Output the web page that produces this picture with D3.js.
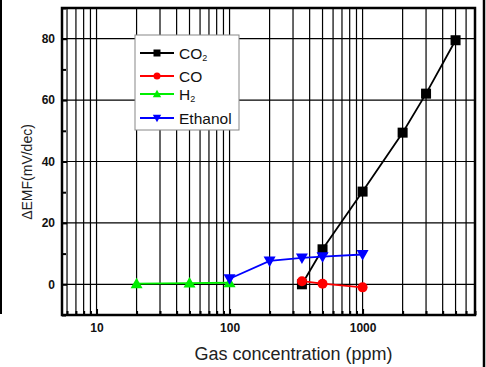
<!DOCTYPE html>
<html><head><meta charset="utf-8">
<script src="https://cdn.jsdelivr.net/npm/d3@7"></script>
<style>body{margin:0;background:#fff}svg{display:block}</style>
</head><body>
<svg id="c" width="486" height="367"></svg>
<script>
const co2X = [350, 500, 1000, 2000, 3000, 5000];
const co2Y = [0, 11.4, 30.2, 49.4, 62.1, 79.5];
const coX = [350, 500, 1000];
const coY = [1.0, 0.2, -1.0];
const h2X = [20, 50, 100];
const h2Y = [0.2, 0.4, 0.5];
const ethX = [100, 200, 350, 500, 1000];
const ethY = [1.8, 7.6, 8.6, 9.0, 9.7];
const xTickLabels = [10, 100, 1000];
const yTickLabels = [0, 20, 40, 60, 80];

const svg = d3.select("#c");
const L = 62, R = 475, T = 8, B = 315;
const x = d3.scaleLog().domain([5.5, 7000]).range([L, R]);
const y = d3.scaleLinear().domain([-10, 90]).range([B, T]);

// outer frame lines
svg.append("line").attr("x1",1).attr("x2",1).attr("y1",0).attr("y2",314).attr("stroke","#000").attr("stroke-width",2);
svg.append("line").attr("x1",484).attr("x2",484).attr("y1",0).attr("y2",367).attr("stroke","#000").attr("stroke-width",2.5);

// vertical gridlines at all log ticks
const allX = [];
for (let d = 1; d <= 1000; d *= 10) for (let m = 1; m <= 9; m++) { const v = d*m; if (v >= 5.5 && v <= 7000) allX.push(v); }
svg.append("g").selectAll("line").data(allX).join("line")
  .attr("x1", d=>x(d)).attr("x2", d=>x(d)).attr("y1", T).attr("y2", B)
  .attr("stroke","#000").attr("stroke-width",1.2);
// horizontal gridlines
svg.append("g").selectAll("line").data(yTickLabels).join("line")
  .attr("x1", L).attr("x2", R).attr("y1", d=>y(d)).attr("y2", d=>y(d))
  .attr("stroke","#000").attr("stroke-width",1.2);

// axes
const yAxis = d3.axisLeft(y).tickValues(yTickLabels).tickSize(-5).tickPadding(7).tickFormat(d3.format("d"));
const gy = svg.append("g").attr("transform",`translate(${L},0)`).call(yAxis);
gy.select(".domain").remove();
svg.append("g").attr("transform",`translate(${L},0)`).call(d3.axisLeft(y).tickValues([-10,10,30,50,70,90]).tickSize(-4).tickFormat(""))
  .select(".domain").remove();
const xAxis = d3.axisBottom(x).tickValues(xTickLabels).tickSize(-6).tickPadding(8).tickFormat(d3.format("d"));
const gx = svg.append("g").attr("transform",`translate(0,${B})`).call(xAxis);
gx.select(".domain").remove();
svg.append("g").attr("transform",`translate(0,${B})`).call(d3.axisBottom(x).tickValues(allX.filter(v=>![10,100,1000].includes(v))).tickSize(-4).tickFormat(""))
  .select(".domain").remove();
svg.selectAll(".tick line").attr("stroke","#000").attr("stroke-width",2);
svg.selectAll(".tick text").attr("fill","#111").style("font-family","Liberation Sans, Arial").style("font-size","12px").style("font-weight","bold");

// frame
svg.append("rect").attr("x",L).attr("y",T).attr("width",R-L).attr("height",B-T).attr("fill","none").attr("stroke","#000").attr("stroke-width",2.5);

// titles
svg.append("text").attr("x",293.5).attr("y",360).attr("text-anchor","middle")
  .style("font-family","Liberation Sans, Arial").style("font-size","18px").attr("fill","#222").text("Gas concentration (ppm)");
svg.append("text").attr("transform","translate(32,172) rotate(-90)").attr("text-anchor","middle")
  .style("font-family","Liberation Sans, Arial").style("font-size","14px").attr("fill","#222").text("ΔEMF(mV/dec)");

// series
const series = [
  {name:"CO2", xs:co2X, ys:co2Y, color:"#000000", shape:"square"},
  {name:"CO", xs:coX, ys:coY, color:"#ff0000", shape:"circle"},
  {name:"H2", xs:h2X, ys:h2Y, color:"#00ee00", shape:"up"},
  {name:"Ethanol", xs:ethX, ys:ethY, color:"#0000ff", shape:"down"}
];
function marker(g, shape, cx, cy, color, s) {
  if (shape==="square") g.append("rect").attr("x",cx-s/2).attr("y",cy-s/2).attr("width",s).attr("height",s).attr("fill",color);
  else if (shape==="circle") g.append("circle").attr("cx",cx).attr("cy",cy).attr("r",s/2).attr("fill",color);
  else if (shape==="up") g.append("path").attr("d",`M${cx},${cy-s*0.6}L${cx+s*0.6},${cy+s*0.45}L${cx-s*0.6},${cy+s*0.45}Z`).attr("fill",color);
  else g.append("path").attr("d",`M${cx},${cy+s*0.6}L${cx+s*0.6},${cy-s*0.45}L${cx-s*0.6},${cy-s*0.45}Z`).attr("fill",color);
}
const line = d3.line().x(d=>x(d[0])).y(d=>y(d[1]));
series.forEach(s => {
  const pts = s.xs.map((v,i)=>[v, s.ys[i]]);
  svg.append("path").datum(pts).attr("d",line).attr("fill","none").attr("stroke",s.color).attr("stroke-width",1.8);
});
series.forEach(s => {
  const g = svg.append("g");
  s.xs.forEach((v,i)=>marker(g, s.shape, x(v), y(s.ys[i]), s.color, 10));
});

// legend
const lg = svg.append("g");
lg.append("rect").attr("x",135).attr("y",35).attr("width",104).attr("height",95).attr("fill","#fff").attr("stroke","#888").attr("stroke-width",1);
const rows = [53, 76, 94, 118];
series.forEach((s,i) => {
  const yy = rows[i];
  lg.append("line").attr("x1",140).attr("x2",174).attr("y1",yy).attr("y2",yy).attr("stroke",s.color).attr("stroke-width",1.8);
  marker(lg, s.shape, 157, yy, s.color, 7);
  const t = lg.append("text").attr("x",179).attr("y",yy+5.5).style("font-family","Liberation Sans, Arial").style("font-size","15.5px").attr("fill","#111");
  if (s.name==="CO2" || s.name==="H2") {
    t.append("tspan").text(s.name.slice(0,-1));
    t.append("tspan").style("font-size","9px").attr("dy",2).text("2");
  } else t.text(s.name);
});
</script>
</body></html>
